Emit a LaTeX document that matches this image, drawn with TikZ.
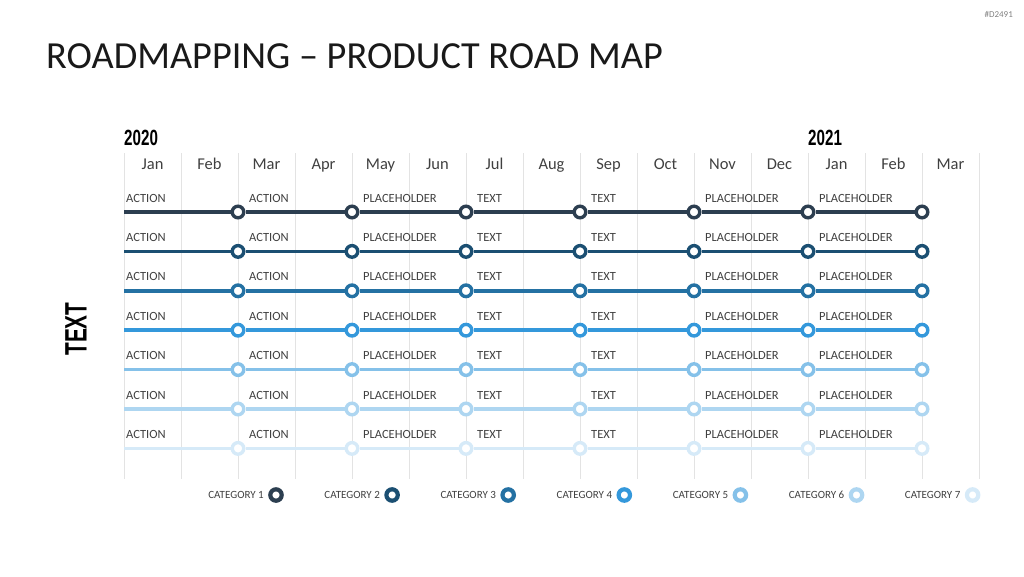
\documentclass[tikz,border=0pt]{standalone}
\usepackage{fontspec}
\setmainfont{Carlito}
\newfontfamily\condfont{Liberation Sans}
\definecolor{c1}{HTML}{2C3E50}
\definecolor{c2}{HTML}{1B4F72}
\definecolor{c3}{HTML}{2471A3}
\definecolor{c4}{HTML}{3498DB}
\definecolor{c5}{HTML}{85C1E9}
\definecolor{c6}{HTML}{AED6F1}
\definecolor{c7}{HTML}{D6EAF8}
\definecolor{txt}{HTML}{404040}
\definecolor{gridc}{HTML}{E3E3E3}
\tikzset{
  gridline/.style={draw=gridc, line width=0.9pt},
  month/.style={text=txt, font=\fontsize{16.5}{18}\selectfont, inner sep=0pt, anchor=base},
  rowlabel/.style={text=txt, font=\fontsize{12.5}{14}\selectfont, inner sep=0pt, anchor=west},
  leglabel/.style={text=txt, font=\fontsize{11}{12}\selectfont, inner sep=0pt, anchor=east},
  dot/.style={circle, fill=white, line width=3.4pt, minimum size=11.6pt, inner sep=0pt},
  legdot/.style={circle, fill=white, line width=4.2pt, minimum size=11.4pt, inner sep=0pt},
  road/.style={line width=3.5pt},
}
\begin{document}
\begin{tikzpicture}[x=1pt,y=-1pt]
\useasboundingbox (0,0) rectangle (1024,576);
% id
\node[anchor=east, text=gray, font=\fontsize{9}{10}\selectfont, inner sep=0pt] (id) at (1013,14) {\#D2491};
% title
\node[anchor=west, inner sep=0pt, font=\fontsize{38.3}{40}\selectfont, text=black!90] (title) at (46,56.5) {ROADMAPPING – PRODUCT ROAD MAP};
% years
\node[anchor=west, inner sep=0pt] (y2020) at (124,137.5) {\scalebox{0.69}[1]{\condfont\fontsize{22}{22}\selectfont\bfseries 2020}};
\node[anchor=west, inner sep=0pt] (y2021) at (808,137.5) {\scalebox{0.69}[1]{\condfont\fontsize{22}{22}\selectfont\bfseries 2021}};
% side text
\node[rotate=90, inner sep=0pt] (side) at (76,329) {\scalebox{0.67}[1]{\condfont\fontsize{31}{31}\selectfont\bfseries TEXT}};
% grid
\foreach \k in {0,...,15} {
  \coordinate (gt\k) at ({124+57*\k},153);
  \coordinate (gb\k) at ({124+57*\k},479);
  \draw[gridline] (gt\k) -- (gb\k);
}
% months
\foreach \m [count=\i from 0] in {Jan,Feb,Mar,Apr,May,Jun,Jul,Aug,Sep,Oct,Nov,Dec,Jan,Feb,Mar} {
  \node[month] (m\i) at ({152.5+57*\i},169.5) {\m};
}
% rows
\foreach \r in {1,...,7} {
  \pgfmathsetmacro{\yy}{212+39.4*(\r-1)}
  \coordinate (s\r) at (124,\yy);
  \foreach \j in {1,...,7} {
    \node[dot, draw=c\r] (p\r-\j) at ({238+114*(\j-1)},\yy) {};
  }
  \draw[road, c\r] (s\r) -- (p\r-1) -- (p\r-2) -- (p\r-3) -- (p\r-4) -- (p\r-5) -- (p\r-6) -- (p\r-7);
  \node[rowlabel] (l\r-0) at (126,{\yy-14}) {ACTION};
  \foreach \t [count=\j] in {ACTION,PLACEHOLDER,TEXT,TEXT,PLACEHOLDER,PLACEHOLDER} {
    \node[rowlabel] (l\r-\j) at ({238+114*(\j-1)+11},{\yy-14}) {\t};
  }
}
% legend
\foreach \r in {1,...,7} {
  \node[legdot, draw=c\r] (lg\r) at ({276+116.1*(\r-1)},495) {};
  \node[leglabel] (lt\r) at ({276+116.1*(\r-1)-12},495) {CATEGORY \r};
}
\end{tikzpicture}
\end{document}
